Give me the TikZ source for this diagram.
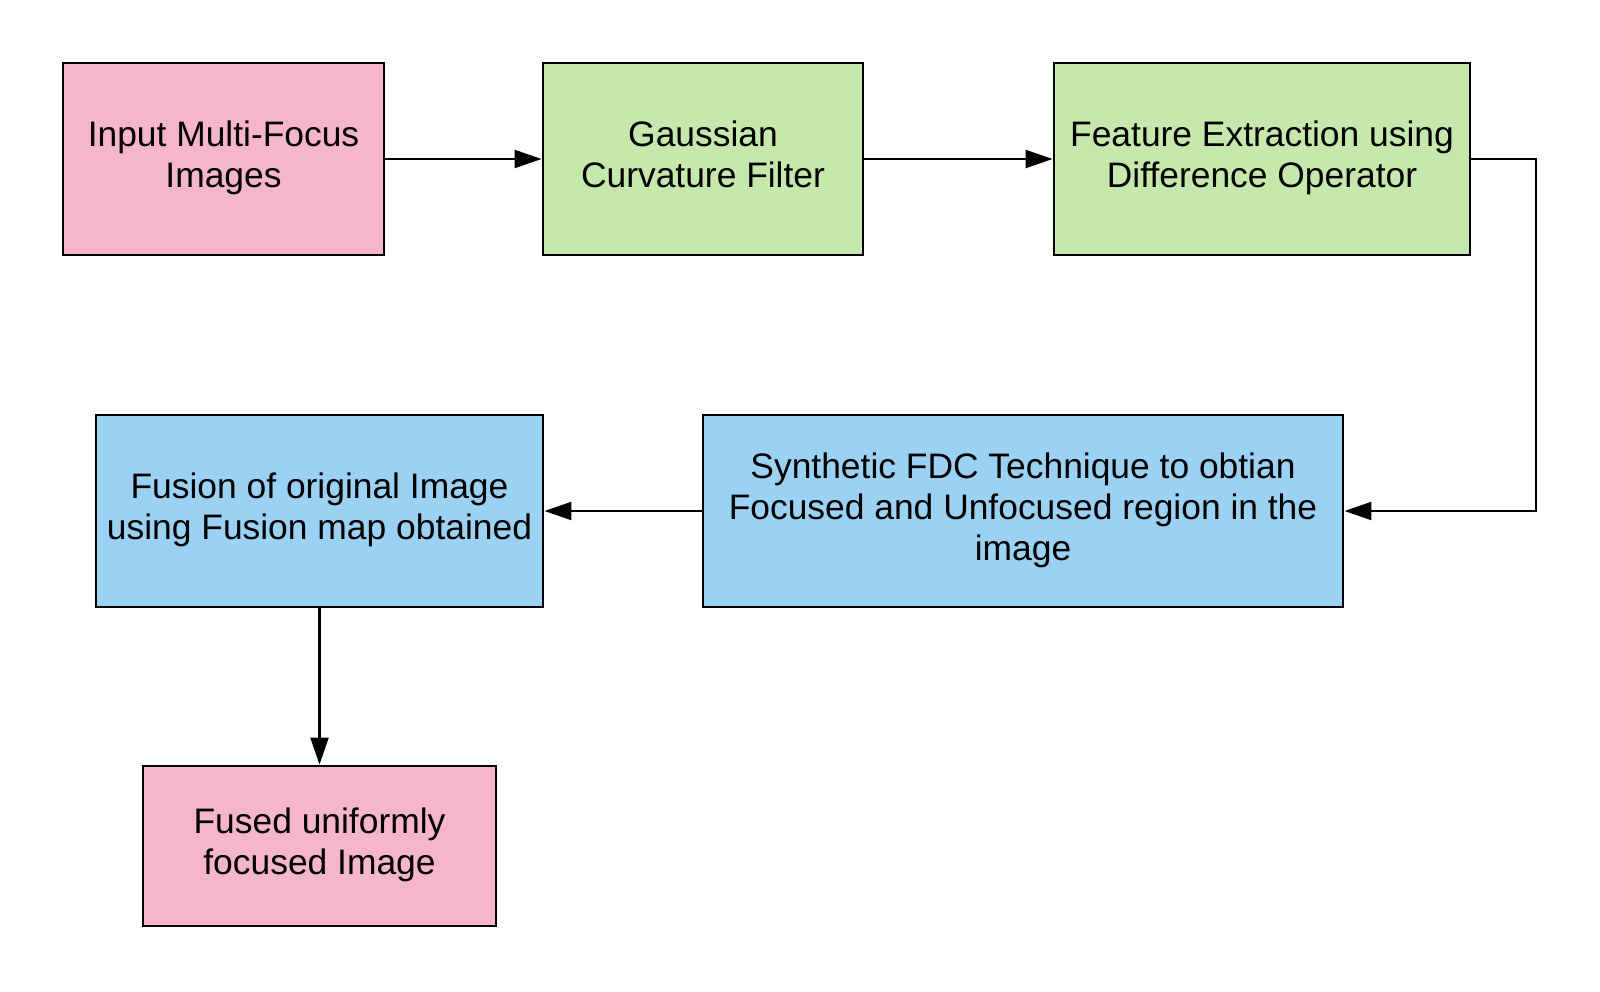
\documentclass[tikz,border=0pt]{standalone}
\usepackage{fontspec}
\setmainfont{Liberation Sans}
\usetikzlibrary{arrows.meta}
\definecolor{pinkc}{RGB}{244,182,200}
\definecolor{greenc}{RGB}{199,232,172}
\definecolor{bluec}{RGB}{155,209,242}
\begin{document}
\begin{tikzpicture}[x=0.5pt,y=-0.5pt,
  box/.style={draw=black, line width=1.45pt, align=center, inner sep=0pt,
    font=\fontsize{17.7}{20.5}\selectfont},
  conn/.style={line width=1.15pt, -{Triangle[length=13.5pt,width=9pt]}}]
\useasboundingbox[fill=white] (0,0) rectangle (1600,991);
\node[box, fill=pinkc, minimum width=160.5pt, minimum height=96pt] (inp) at (223.5,159) {Input Multi-Focus\strut\\Images\strut};
\node[box, fill=greenc, minimum width=160pt, minimum height=96pt] (gauss) at (703,159) {Gaussian\strut\\Curvature Filter\strut};
\node[box, fill=greenc, minimum width=208pt, minimum height=96pt] (feat) at (1262,159) {Feature Extraction using\strut\\Difference Operator\strut};
\node[box, fill=bluec, minimum width=320pt, minimum height=96pt] (synth) at (1023,511) {Synthetic FDC Technique to obtian\strut\\Focused and Unfocused region in the\strut\\image\strut};
\node[box, fill=bluec, minimum width=223.5pt, minimum height=96pt] (fusion) at (319.5,511) {Fusion of original Image\strut\\using Fusion map obtained\strut};
\node[box, fill=pinkc, minimum width=176.5pt, minimum height=80pt] (fused) at (319.5,846) {Fused uniformly\strut\\focused Image\strut};
\coordinate (c1) at (1536,159);
\coordinate (c2) at (1536,511);
\draw[conn] (inp.east) -- (gauss.west);
\draw[conn] (gauss.east) -- (feat.west);
\draw[conn] (feat.east) -- (c1) -- (c2) -- (synth.east);
\draw[conn] (synth.west) -- (fusion.east);
\draw[conn] (fusion.south) -- (fused.north);
\end{tikzpicture}
\end{document}
